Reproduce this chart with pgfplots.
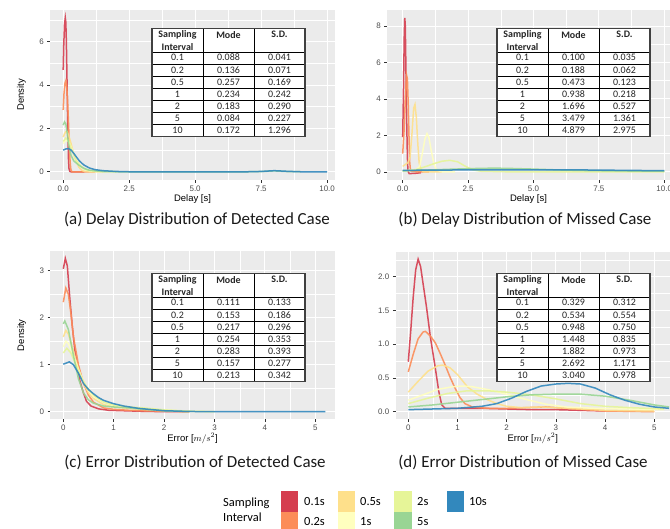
\documentclass[border=0pt]{standalone}
\usepackage{pgfplots}
\pgfplotsset{compat=1.18}
\usepackage{fontspec}
\setmainfont{Carlito}
\newfontfamily\arial{Liberation Sans}

\definecolor{ggbg}{HTML}{EBEBEB}
\definecolor{ggtick}{HTML}{333333}
\definecolor{ggtxt}{HTML}{4D4D4D}
\definecolor{c1}{HTML}{D53E4F}
\definecolor{c2}{HTML}{FC8D59}
\definecolor{c3}{HTML}{FEE08B}
\definecolor{c4}{HTML}{FFFFBF}
\definecolor{c5}{HTML}{E6F598}
\definecolor{c6}{HTML}{99D594}
\definecolor{c7}{HTML}{3288BD}

\newcommand\ticfont{\arial\fontsize{8}{9}\selectfont}
\newcommand\labfont{\arial\fontsize{9.5}{11}\selectfont}
\newcommand\capfont{\fontsize{17}{20}\selectfont}
\newcommand\tabfont{\fontsize{10}{11}\selectfont}
\newcommand\legfont{\fontsize{12.5}{14}\selectfont}

\pgfplotsset{
  gg/.style={
    scale only axis, anchor=north west,
    axis background/.style={fill=ggbg},
    axis line style={draw=none},
    grid=both,
    major grid style={white, line width=0.9bp},
    minor grid style={white, line width=0.45bp},
    tick pos=left, tick align=outside,
    major tick length=2.7bp, minor tick length=0pt,
    tick style={ggtick, line width=0.6bp},
    ticklabel style={font=\ticfont, text=ggtxt},
    label style={font=\labfont},
    xlabel style={at={(axis description cs:0.5,0)}, anchor=center, yshift=-19bp},
    ylabel style={at={(axis description cs:-0.1,0.5)}, anchor=center},
    every axis plot/.append style={line width=1.5bp, opacity=0.9, no markers},
  }
}

% table drawn in a scope with x=1bp, y=-1bp
\newcommand{\statstable}[3]{%
  \begin{scope}[shift={(#1,#2)}]
    \fill[white] (0,0) rectangle (153,108.4);
    \foreach \k in {0,...,6} \draw[line width=0.8bp] (0,24+\k*12.06) -- (153,24+\k*12.06);
    \draw[line width=0.8bp] (51,0) -- (51,108.4) (102,0) -- (102,108.4);
    \draw[line width=1.2bp, draw=black!75] (0,0) rectangle (153,108.4);
    \node[font=\tabfont\bfseries, text=black!85] at (25.5,6.7) {Sampling};
    \node[font=\tabfont\bfseries, text=black!85] at (25.5,18.4) {Interval};
    \node[font=\tabfont\bfseries, text=black!85] at (76.5,6.4) {Mode};
    \node[font=\tabfont\bfseries, text=black!85] at (127.5,6.4) {S.D.};
    \foreach [count=\r] \a/\b/\c in {#3} {
      \pgfmathsetmacro{\yy}{24+(\r-0.5)*12.06}
      \node[font=\tabfont, text=black!85, text height=1.4ex, text depth=0.3ex] at (25.5,\yy) {\a};
      \node[font=\tabfont, text=black!85, text height=1.4ex, text depth=0.3ex] at (76.5,\yy) {\b};
      \node[font=\tabfont, text=black!85, text height=1.4ex, text depth=0.3ex] at (127.5,\yy) {\c};
    }
  \end{scope}}

\begin{document}
\begin{tikzpicture}
\useasboundingbox (0,0) rectangle (670bp,-529bp);

% (a) delay, detected
\begin{axis}[gg, at={(50bp,-10bp)}, width=285bp, height=170bp,
  xmin=-0.5, xmax=10.3, ymin=-0.38, ymax=7.46,
  xtick={0,2.5,5,7.5,10}, xticklabels={0.0,2.5,5.0,7.5,10.0},
  minor xtick={1.25,3.75,6.25,8.75},
  ytick={0,2,4,6}, yticklabels={0,2,4,6}, minor ytick={1,3,5,7},
  xlabel={Delay [s]}, ylabel={Density}]
\addplot[c1] coordinates {(0,4.7)(0.02,5.8)(0.05,6.8)(0.08,7.1)(0.1,6.9)(0.12,6.0)(0.14,4.6)(0.16,3.0)(0.18,1.6)(0.2,0.6)(0.22,0.15)(0.25,0.02)(0.3,0)(0.8,0)};
\addplot[c2] coordinates {(0,2.85)(0.03,3.6)(0.07,4.1)(0.1,4.2)(0.13,4.0)(0.17,3.2)(0.2,2.3)(0.23,1.3)(0.26,0.5)(0.29,0.1)(0.33,0)(1.2,0)};
\addplot[c3] coordinates {(0,1.6)(0.05,1.75)(0.1,1.85)(0.15,1.85)(0.2,1.7)(0.3,1.3)(0.4,0.8)(0.5,0.45)(0.6,0.2)(0.7,0.07)(0.8,0.02)(1,0)(1.5,0)};
\addplot[c4] coordinates {(0,1.3)(0.1,1.45)(0.2,1.4)(0.3,1.15)(0.4,0.85)(0.5,0.55)(0.6,0.35)(0.8,0.12)(1,0.04)(1.3,0.01)(2,0)};
\addplot[c5] coordinates {(0,1.4)(0.1,1.55)(0.2,1.45)(0.3,1.1)(0.4,0.8)(0.5,0.5)(0.7,0.2)(0.9,0.08)(1.2,0.02)(2,0)};
\addplot[c6] coordinates {(0,2.15)(0.05,2.3)(0.1,2.2)(0.15,1.8)(0.2,1.3)(0.3,0.75)(0.4,0.5)(0.5,0.4)(0.6,0.3)(0.8,0.15)(1,0.07)(1.5,0.01)(2,0)(7,0)(7.5,0.01)(8,0.04)(8.5,0.01)(9,0)};
\addplot[c7] coordinates {(0,1.0)(0.1,1.05)(0.2,1.07)(0.3,1.0)(0.4,0.85)(0.5,0.68)(0.6,0.52)(0.7,0.4)(0.8,0.3)(1,0.17)(1.2,0.1)(1.5,0.05)(2,0.015)(2.5,0)(7,0)(7.5,0.015)(8,0.05)(8.5,0.02)(9,0)(10,0)};
\end{axis}

% (b) delay, missed
\begin{axis}[gg, at={(387bp,-10bp)}, width=283bp, height=170bp,
  xmin=-0.6, xmax=10.22, ymin=-0.45, ymax=8.88,
  xtick={0,2.5,5,7.5,10}, xticklabels={0.0,2.5,5.0,7.5,10.0},
  minor xtick={1.25,3.75,6.25,8.75},
  ytick={0,2,4,6,8}, yticklabels={0,2,4,6,8}, minor ytick={1,3,5,7},
  xlabel={Delay [s]}]
\addplot[c1] coordinates {(0,1.9)(0.03,4.5)(0.06,7.5)(0.08,8.45)(0.1,8.0)(0.12,6.0)(0.15,3.0)(0.18,0.8)(0.2,0.05)(0.25,-0.1)(0.5,-0.08)(0.7,-0.05)};
\addplot[c2] coordinates {(0,1.0)(0.05,2.2)(0.1,4.0)(0.15,5.3)(0.18,5.1)(0.21,3.8)(0.24,2.0)(0.27,0.5)(0.3,0.05)(0.5,0)(1,0)};
\addplot[c3] coordinates {(0,0.3)(0.1,0.4)(0.2,0.5)(0.28,0.8)(0.35,2.0)(0.42,3.5)(0.47,3.7)(0.52,3.0)(0.58,1.5)(0.63,0.5)(0.7,0.1)(0.8,0)(1.5,0)};
\addplot[c4] coordinates {(0,0.05)(0.5,0.1)(0.65,0.3)(0.75,1.0)(0.85,1.8)(0.93,2.1)(1.0,1.9)(1.1,1.1)(1.2,0.4)(1.3,0.1)(1.5,0)(2,0)};
\addplot[c5] coordinates {(0,0.05)(0.5,0.12)(0.8,0.25)(1.2,0.45)(1.5,0.58)(1.8,0.63)(2.1,0.55)(2.4,0.3)(2.7,0.1)(3,0.03)(4,0)(10,0)};
\addplot[c6] coordinates {(0,0.05)(1,0.1)(2,0.15)(3,0.19)(3.5,0.2)(4,0.19)(5,0.15)(6,0.1)(7,0.07)(8,0.05)(9,0.04)(10,0.03)};
\addplot[c7] coordinates {(0,0.08)(2,0.1)(4,0.11)(5,0.11)(7,0.1)(10,0.06)};
\end{axis}

% (c) error, detected
\begin{axis}[gg, at={(50.2bp,-251.4bp)}, width=284.8bp, height=167.8bp,
  xmin=-0.26, xmax=5.39, ymin=-0.16, ymax=3.41,
  xtick={0,1,2,3,4,5}, xticklabels={0,1,2,3,4,5},
  minor xtick={0.5,1.5,2.5,3.5,4.5},
  ytick={0,1,2,3}, yticklabels={0,1,2,3}, minor ytick={0.5,1.5,2.5},
  xlabel={Error [$m/s^2$]}, ylabel={Density}]
\addplot[c1] coordinates {(0,3.04)(0.04,3.26)(0.08,3.1)(0.13,2.4)(0.18,1.8)(0.23,1.3)(0.28,1.0)(0.33,0.65)(0.4,0.4)(0.46,0.22)(0.55,0.12)(0.7,0.06)(0.9,0.03)(1.2,0.02)(1.5,0.01)(2,0)(2.5,0)};
\addplot[c2] coordinates {(0,2.33)(0.05,2.63)(0.1,2.5)(0.15,2.1)(0.2,1.6)(0.3,1.0)(0.4,0.6)(0.5,0.35)(0.6,0.2)(0.8,0.08)(1,0.05)(1.3,0.03)(1.6,0.02)(2,0.01)(2.5,0)};
\addplot[c3] coordinates {(0,1.59)(0.05,1.73)(0.1,1.65)(0.2,1.3)(0.3,0.9)(0.4,0.6)(0.5,0.4)(0.6,0.28)(0.8,0.15)(1,0.1)(1.3,0.07)(1.6,0.05)(2,0.02)(2.5,0)};
\addplot[c4] coordinates {(0,1.38)(0.05,1.5)(0.1,1.45)(0.2,1.2)(0.3,0.9)(0.4,0.65)(0.5,0.45)(0.6,0.32)(0.8,0.2)(1,0.13)(1.3,0.09)(1.6,0.07)(2,0.03)(2.5,0.01)(3,0)};
\addplot[c5] coordinates {(0,1.25)(0.07,1.35)(0.15,1.25)(0.25,1.0)(0.35,0.75)(0.45,0.55)(0.6,0.35)(0.8,0.2)(1,0.14)(1.3,0.1)(1.6,0.08)(2,0.04)(2.5,0.01)(3,0)};
\addplot[c6] coordinates {(0,1.87)(0.03,1.93)(0.1,1.75)(0.2,1.2)(0.3,0.7)(0.4,0.4)(0.5,0.25)(0.6,0.18)(0.8,0.12)(1,0.1)(1.3,0.08)(1.6,0.05)(2,0.02)(2.5,0)};
\addplot[c7] coordinates {(0,1.01)(0.12,1.06)(0.2,1.0)(0.3,0.82)(0.4,0.6)(0.5,0.47)(0.6,0.38)(0.7,0.3)(0.8,0.24)(1,0.17)(1.2,0.12)(1.5,0.07)(2,0.02)(2.5,0.005)(3,0)(5.2,0)};
\end{axis}

% (d) error, missed
\begin{axis}[gg, at={(395.5bp,-252.4bp)}, width=274.5bp, height=166.7bp,
  xmin=-0.26, xmax=5.32, ymin=-0.11, ymax=2.36,
  xtick={0,1,2,3,4,5}, xticklabels={0,1,2,3,4,5},
  minor xtick={0.5,1.5,2.5,3.5,4.5},
  ytick={0,0.5,1,1.5,2}, yticklabels={0.0,0.5,1.0,1.5,2.0},
  minor ytick={0.25,0.75,1.25,1.75,2.25},
  xlabel={Error [$m/s^2$]}]
\addplot[c1] coordinates {(0,0.74)(0.05,1.2)(0.1,1.7)(0.15,2.1)(0.2,2.26)(0.25,2.15)(0.3,1.9)(0.37,1.55)(0.45,1.1)(0.54,0.69)(0.62,0.3)(0.68,0.1)(0.75,0.05)(1,0.05)(1.5,0.05)(2,0.04)(2.5,0.03)(3,0.03)(3.5,0.02)(4,0.01)};
\addplot[c2] coordinates {(0,0.59)(0.1,0.85)(0.2,1.08)(0.3,1.18)(0.35,1.19)(0.45,1.12)(0.55,1.02)(0.65,0.86)(0.75,0.69)(0.85,0.51)(0.95,0.35)(1.05,0.21)(1.15,0.12)(1.3,0.07)(1.6,0.05)(2,0.05)(2.4,0.06)(2.8,0.07)(3.2,0.05)(3.6,0.03)(4,0.01)(5,0)};
\addplot[c3] coordinates {(0,0.29)(0.2,0.45)(0.4,0.6)(0.6,0.68)(0.7,0.69)(0.85,0.65)(1,0.55)(1.2,0.37)(1.4,0.26)(1.6,0.18)(1.8,0.12)(2,0.08)(2.3,0.06)(2.7,0.07)(3,0.06)(3.5,0.04)(4,0.02)(5,0.01)};
\addplot[c4] coordinates {(0,0.17)(0.3,0.25)(0.6,0.33)(0.9,0.37)(1.1,0.38)(1.3,0.37)(1.6,0.33)(2,0.26)(2.4,0.18)(2.8,0.11)(3.2,0.07)(3.8,0.05)(4.5,0.04)(5.2,0.03)};
\addplot[c5] coordinates {(0,0.12)(0.4,0.2)(0.8,0.27)(1.2,0.31)(1.6,0.31)(2,0.29)(2.5,0.25)(3,0.19)(3.5,0.12)(4,0.08)(4.5,0.06)(5.2,0.04)};
\addplot[c6] coordinates {(0,0.07)(0.5,0.1)(1,0.14)(1.5,0.18)(2,0.22)(2.5,0.25)(3,0.26)(3.5,0.26)(4,0.23)(4.5,0.17)(5,0.1)(5.3,0.07)};
\addplot[c7] coordinates {(0,0.03)(0.5,0.04)(1,0.05)(1.5,0.08)(1.8,0.12)(2.1,0.2)(2.4,0.3)(2.7,0.38)(3,0.41)(3.25,0.42)(3.5,0.41)(3.8,0.35)(4.1,0.25)(4.4,0.17)(4.7,0.11)(5,0.07)(5.3,0.05)};
\end{axis}

\begin{scope}[x=1bp, y=-1bp]
  \statstable{152}{28.3}{0.1/0.088/0.041, 0.2/0.136/0.071, 0.5/0.257/0.169, 1/0.234/0.242, 2/0.183/0.290, 5/0.084/0.227, 10/0.172/1.296}
  \statstable{497}{28.3}{0.1/0.100/0.035, 0.2/0.188/0.062, 0.5/0.473/0.123, 1/0.938/0.218, 2/1.696/0.527, 5/3.479/1.361, 10/4.879/2.975}
  \statstable{152}{273.3}{0.1/0.111/0.133, 0.2/0.153/0.186, 0.5/0.217/0.296, 1/0.254/0.353, 2/0.283/0.393, 5/0.157/0.277, 10/0.213/0.342}
  \statstable{497}{273.3}{0.1/0.329/0.312, 0.2/0.534/0.554, 0.5/0.948/0.750, 1/1.448/0.835, 2/1.882/0.973, 5/2.692/1.171, 10/3.040/0.978}

  % captions
  \node[font=\capfont, text=black!90] at (197,220) {(a) Delay Distribution of Detected Case};
  \node[font=\capfont, text=black!90] at (525,220) {(b) Delay Distribution of Missed Case};
  \node[font=\capfont, text=black!90] at (195,462) {(c) Error Distribution of Detected Case};
  \node[font=\capfont, text=black!90] at (523,462) {(d) Error Distribution of Missed Case};

  % legend
  \node[font=\legfont, anchor=west, inner sep=0pt] at (223,503) {Sampling};
  \node[font=\legfont, anchor=west, inner sep=0pt] at (223,517) {Interval};
  \fill[c1] (281,491) rectangle (298,512);
  \fill[c2] (281,512) rectangle (298,533);
  \fill[c3] (338,491) rectangle (355,512);
  \fill[c4] (338,512) rectangle (355,533);
  \fill[c5] (394,491) rectangle (412,512);
  \fill[c6] (394,512) rectangle (412,533);
  \fill[c7] (447,491) rectangle (464,512);
  \node[font=\legfont, anchor=west, inner sep=0pt] at (304,502) {0.1s};
  \node[font=\legfont, anchor=west, inner sep=0pt] at (304,522) {0.2s};
  \node[font=\legfont, anchor=west, inner sep=0pt] at (360,502) {0.5s};
  \node[font=\legfont, anchor=west, inner sep=0pt] at (360,522) {1s};
  \node[font=\legfont, anchor=west, inner sep=0pt] at (417,502) {2s};
  \node[font=\legfont, anchor=west, inner sep=0pt] at (417,522) {5s};
  \node[font=\legfont, anchor=west, inner sep=0pt] at (469,502) {10s};
\end{scope}
\end{tikzpicture}
\end{document}
